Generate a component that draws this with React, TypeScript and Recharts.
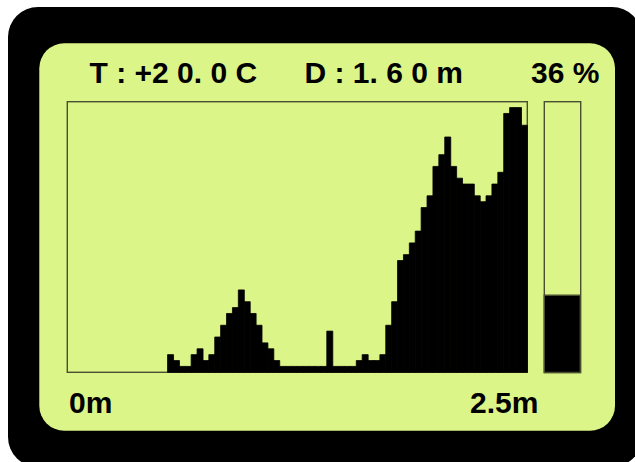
import { BarChart, Bar, XAxis, YAxis } from 'recharts';

// Distance bins (78 columns across 0m..2.5m), height in display units
const BIN_VALUES: number[] = [
  0, 0, 0, 0, 0, 0, 0, 0, 0, 0, 0, 0, 0, 0, 0, 0, 0,
  3, 2, 1, 1, 3, 4, 2, 3, 6, 8, 10, 11, 14, 12, 10, 8, 5, 4, 2,
  1, 1, 1, 1, 1, 1, 1, 1, 7, 1, 1, 1, 1,
  2, 3, 2, 2, 3, 8, 12, 19, 20, 22, 24, 28, 30, 35, 37, 40,
  35, 33, 32, 32, 30, 29, 30, 32, 34, 44, 45, 45, 42,
];
const Y_MAX = 46;

const GAUGE_VALUE = [28.5];

const HEADER_LABELS = ['T : +2 0. 0 C', 'D : 1. 6 0 m', '36 %'];
const AXIS_LABELS = ['0m', '2.5m'];

const LCD_GREEN = '#dbf588';
const FRAME = '#4a4f31';
const FONT = '"Liberation Sans", Arial, sans-serif';

const binData = BIN_VALUES.map((v, i) => ({ bin: i, value: v }));
const gaugeData = GAUGE_VALUE.map((v) => ({ name: 'level', value: v }));

export default function App() {
  return (
    <div style={{ position: 'absolute', left: 0, top: 0, width: 635, height: 462, background: '#fff', overflow: 'hidden' }}>
      {/* LCD housing, panel, frames and labels */}
      <svg width={635} height={462} style={{ position: 'absolute', left: 0, top: 0 }}>
        <rect x={8} y={7} width={634} height={460} rx={30} ry={30} fill="#000" />
        <rect x={39.3} y={43.3} width={575.7} height={387.4} rx={25} ry={25} fill={LCD_GREEN} />
        <rect x={67.3} y={101.7} width={460} height={270.6} fill="none" stroke={FRAME} strokeWidth={1.4} />
        <rect x={544.3} y={101.7} width={36.4} height={270.8} fill="none" stroke={FRAME} strokeWidth={1.4} />
        <g fontFamily={FONT} fontWeight="bold" fontSize={30} fill="#000">
          <text x={89.5} y={83.3}>{HEADER_LABELS[0]}</text>
          <text x={304.5} y={83.3}>{HEADER_LABELS[1]}</text>
          <text x={531} y={83.3}>{HEADER_LABELS[2]}</text>
          <text x={69} y={413}>{AXIS_LABELS[0]}</text>
          <text x={470} y={413}>{AXIS_LABELS[1]}</text>
        </g>
      </svg>

      {/* Distance histogram */}
      <div style={{ position: 'absolute', left: 60, top: 95 }}>
        <BarChart
          width={475}
          height={285}
          data={binData}
          barCategoryGap={0}
          margin={{ top: 6.7, left: 7.3, right: 7.7, bottom: 7.7 }}
        >
          <XAxis dataKey="bin" hide />
          <YAxis type="number" domain={[0, Y_MAX]} hide />
          <Bar dataKey="value" fill="#000" stroke="#000" strokeWidth={0.8} isAnimationActive={false} />
        </BarChart>
      </div>

      {/* Level gauge */}
      <div style={{ position: 'absolute', left: 540, top: 95 }}>
        <BarChart
          width={45}
          height={285}
          data={gaugeData}
          barCategoryGap={0}
          margin={{ top: 6.7, left: 4.3, right: 4.3, bottom: 7.5 }}
        >
          <XAxis dataKey="name" hide />
          <YAxis type="number" domain={[0, 100]} hide />
          <Bar dataKey="value" fill="#000" stroke={FRAME} strokeWidth={1.4} isAnimationActive={false} />
        </BarChart>
      </div>
    </div>
  );
}
